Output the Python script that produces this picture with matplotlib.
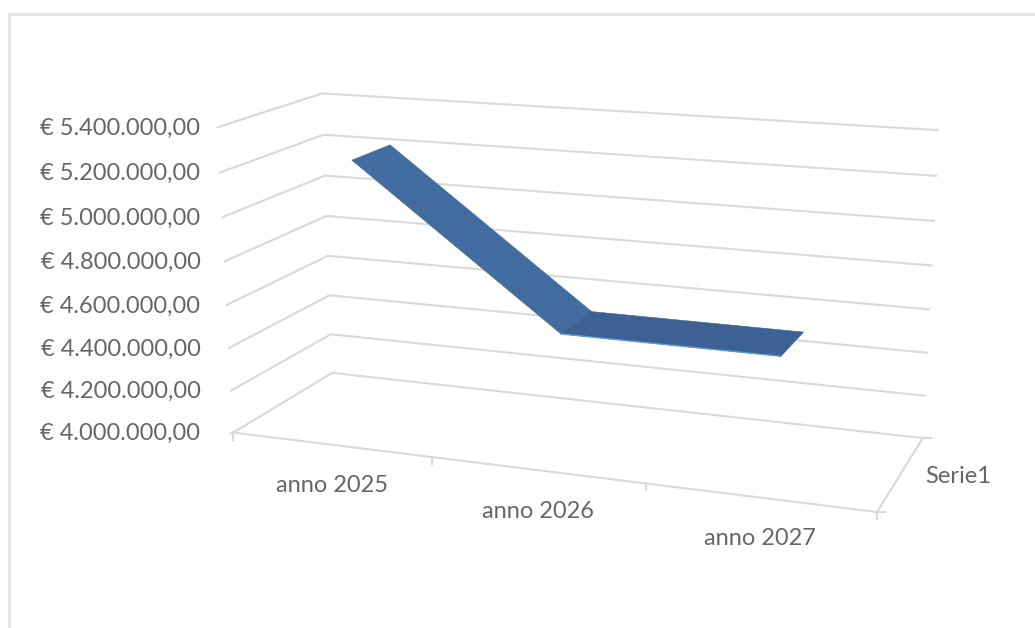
import numpy as np
import matplotlib
matplotlib.use("Agg")
import matplotlib.pyplot as plt
from matplotlib.patches import Polygon

# ---- data ----
categories = ["anno 2025", "anno 2026", "anno 2027"]
series_name = "Serie1"
values = [5233000.0, 4529000.0, 4527000.0]
axis_ticks = [4000000, 4200000, 4400000, 4600000, 4800000, 5000000, 5200000, 5400000]
tick_labels = ["€ 4.000.000,00", "€ 4.200.000,00", "€ 4.400.000,00", "€ 4.600.000,00",
               "€ 4.800.000,00", "€ 5.000.000,00", "€ 5.200.000,00", "€ 5.400.000,00"]

# ---- 3D view of the chart box: world (category, depth, value in millions) -> pixel ----
view_pairs = [(0,0,4.0,234,432.5),(3,0,4.0,877,512),(3,1,4.0,923,438),(0,1,4.0,331.7,372.7),
              (0,0,5.4,218,127),(0,1,5.4,322.7,93.5),(3,1,5.4,938,130),(0,0,5.2,220,172.3),
              (0,0,5.0,222.3,217),(0,0,4.8,224.3,261.7),(0,1,5.2,324,134.3),(0,1,5.0,325,176),
              (0,1,4.8,326.3,216),(3,1,5.2,936,176)]
rows = []
for x, y, z, u, v in view_pairs:
    rows.append([x,y,z,1,0,0,0,0,-u*x,-u*y,-u*z,-u])
    rows.append([0,0,0,0,x,y,z,1,-v*x,-v*y,-v*z,-v])
CAM = np.linalg.svd(np.array(rows, float))[2][-1].reshape(3, 4)

def project(cat, depth, value):
    h = CAM @ np.array([cat, depth, value / 1e6, 1.0])
    return h[:2] / h[2]

plt.rcParams['font.family'] = ['Lato', 'DejaVu Sans']
fig = plt.figure(figsize=(10.35, 6.28), dpi=100, facecolor='white')
ax = fig.add_axes([0, 0, 1, 1])
ax.set_xlim(0, 1035)
ax.set_ylim(628, 0)
ax.axis('off')

GRID = '#d9d9d9'
TEXT = '#666666'
LW = 1.5

# chart frame
ax.plot([9, 9, 1035], [628, 14, 14], color='#e2e2e2', lw=2.0, solid_capstyle='butt')

n = len(categories)
lo, hi = axis_ticks[0], axis_ticks[-1]

# gridlines on side wall and back wall
for t in axis_ticks:
    pts = np.array([project(0, 0, t), project(0, 1, t), project(n, 1, t)])
    ax.plot(pts[:, 0], pts[:, 1], color=GRID, lw=LW, solid_joinstyle='miter')

# floor edges
for a, b in [((0, 0), (n, 0)), ((n, 0), (n, 1))]:
    pts = np.array([project(*a, lo), project(*b, lo)])
    ax.plot(pts[:, 0], pts[:, 1], color=GRID, lw=LW)

# tick marks
for c in range(n + 1):
    p = project(c, 0, lo)
    ax.plot([p[0], p[0]], [p[1], p[1] + 7], color=GRID, lw=LW)
for d in (0, 1):
    p = project(n, d, lo)
    ax.plot([p[0], p[0] + 8], [p[1], p[1]], color=GRID, lw=LW)
p = project(0, 0, lo)
ax.plot([p[0] - 2, p[0]], [p[1], p[1]], color=GRID, lw=LW)

# ribbon
depth_front, depth_back = 0.30, 0.70
face_colors = ['#426b9f', '#3c6192']
for i in range(n - 1):
    quad = [project(i + .5, depth_front, values[i]), project(i + .5, depth_back, values[i]),
            project(i + 1.5, depth_back, values[i + 1]), project(i + 1.5, depth_front, values[i + 1])]
    ax.add_patch(Polygon(quad, closed=True, facecolor=face_colors[i], edgecolor=face_colors[i], lw=0.4, zorder=3))
edge = np.array([project(1.5, depth_front, values[1]), project(2.5, depth_front, values[2])])
ax.plot(edge[:, 0], edge[:, 1], color='#5b9bd5', lw=1.0, zorder=4)

# value labels
FS = 17.0
for t, lab in zip(axis_ticks, tick_labels):
    ax.text(200.5, project(0, 0, t)[1] + 1, lab, ha='right', va='center', fontsize=FS, color=TEXT)

# category labels
for i, lab in enumerate(categories):
    p = project(i + .5, 0, lo)
    ax.text(p[0] + 1, p[1] + 41, lab, ha='center', va='center', fontsize=FS, color=TEXT)

# series label
p = project(n, depth_front + 0.2, lo)
ax.text(p[0] + 57, p[1] + 3, series_name, ha='center', va='center', fontsize=FS, color=TEXT)

fig.savefig("out.png", dpi=100)
